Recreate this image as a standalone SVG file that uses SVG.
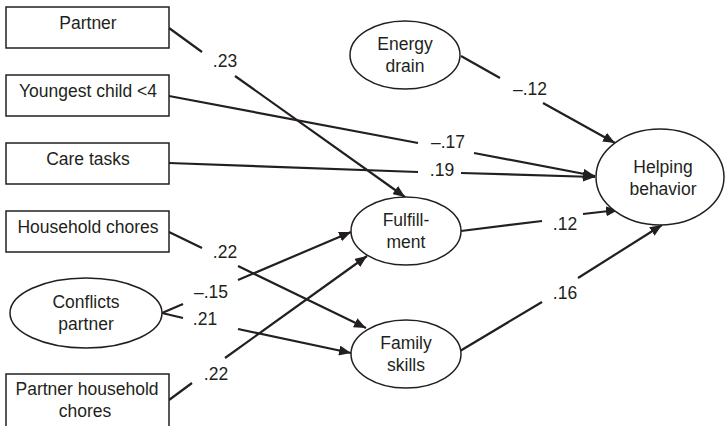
<svg xmlns="http://www.w3.org/2000/svg" width="725" height="426" viewBox="0 0 725 426">
<defs>
<style>
.node{fill:#fff;stroke:#231f20;stroke-width:1.5}
.t{font-family:"Liberation Sans",Arial,sans-serif;font-size:17.5px;fill:#231f20;text-anchor:middle}
.c{stroke:#231f20;stroke-width:2.2;fill:none}
.a{marker-end:url(#arr)}
</style>
<marker id="arr" markerUnits="userSpaceOnUse" markerWidth="14" markerHeight="10" refX="12" refY="5" orient="auto">
<path d="M0,0 L12,5 L0,10 z" fill="#231f20"/>
</marker>
</defs>
<rect width="725" height="426" fill="#fff"/>
<g id="connectors">
<line class="c" x1="169" y1="28" x2="202" y2="52"/>
<line class="c a" x1="235" y1="76" x2="405" y2="197"/>
<line class="c" x1="169" y1="96" x2="418" y2="143"/>
<line class="c a" x1="474" y1="153" x2="595" y2="176"/>
<line class="c" x1="169" y1="163" x2="418" y2="172"/>
<line class="c a" x1="461" y1="173" x2="595" y2="177"/>
<line class="c" x1="169" y1="232" x2="202" y2="248"/>
<line class="c a" x1="238" y1="266" x2="366" y2="328"/>
<line class="c" x1="162" y1="313" x2="183" y2="304"/>
<line class="c a" x1="238" y1="280" x2="351" y2="232"/>
<line class="c" x1="162" y1="313" x2="183" y2="318"/>
<line class="c a" x1="238" y1="329" x2="351" y2="353"/>
<line class="c" x1="169" y1="400" x2="192" y2="383"/>
<line class="c a" x1="225" y1="358" x2="367" y2="256"/>
<line class="c" x1="461" y1="56" x2="500" y2="78"/>
<line class="c a" x1="543" y1="103" x2="615" y2="143"/>
<line class="c" x1="461" y1="231" x2="542" y2="221"/>
<line class="c a" x1="583" y1="214" x2="618" y2="210"/>
<line class="c" x1="460" y1="351" x2="542" y2="302"/>
<line class="c a" x1="578" y1="278" x2="662" y2="225"/>
<text class="t" x="225" y="67">.23</text>
<text class="t" x="448" y="148">–.17</text>
<text class="t" x="442" y="176">.19</text>
<text class="t" x="225" y="258">.22</text>
<text class="t" x="211" y="298">–.15</text>
<text class="t" x="205" y="325">.21</text>
<text class="t" x="216" y="380">.22</text>
<text class="t" x="530" y="95">–.12</text>
<text class="t" x="565" y="230">.12</text>
<text class="t" x="565" y="299">.16</text>
</g>
<g id="partner"><rect class="node" x="6" y="7" width="163" height="41"/><text class="t" x="88" y="29">Partner</text></g>
<g id="youngest-child"><rect class="node" x="6" y="75" width="163" height="41"/><text class="t" x="88" y="97">Youngest child &lt;4</text></g>
<g id="care-tasks"><rect class="node" x="6" y="143" width="163" height="41"/><text class="t" x="88" y="165">Care tasks</text></g>
<g id="household-chores"><rect class="node" x="6" y="211" width="163" height="41"/><text class="t" x="88" y="233">Household chores</text></g>
<g id="partner-household-chores"><rect class="node" x="6" y="374" width="163" height="60"/><text class="t" x="87" y="395">Partner household</text><text class="t" x="85" y="417">chores</text></g>
<g id="conflicts-partner"><ellipse class="node" cx="86" cy="313" rx="76" ry="35"/><text class="t" x="86" y="308">Conflicts</text><text class="t" x="86" y="330">partner</text></g>
<g id="energy-drain"><ellipse class="node" cx="405" cy="55" rx="55" ry="34"/><text class="t" x="405" y="50">Energy</text><text class="t" x="405" y="72">drain</text></g>
<g id="fulfillment"><ellipse class="node" cx="406" cy="231" rx="55" ry="34"/><text class="t" x="406" y="226">Fulfill-</text><text class="t" x="406" y="248">ment</text></g>
<g id="family-skills"><ellipse class="node" cx="406" cy="354" rx="55" ry="34"/><text class="t" x="406" y="349">Family</text><text class="t" x="406" y="371">skills</text></g>
<g id="helping-behavior"><ellipse class="node" cx="660" cy="177" rx="64" ry="48"/><text class="t" x="663" y="173">Helping</text><text class="t" x="663" y="195">behavior</text></g>
</svg>
